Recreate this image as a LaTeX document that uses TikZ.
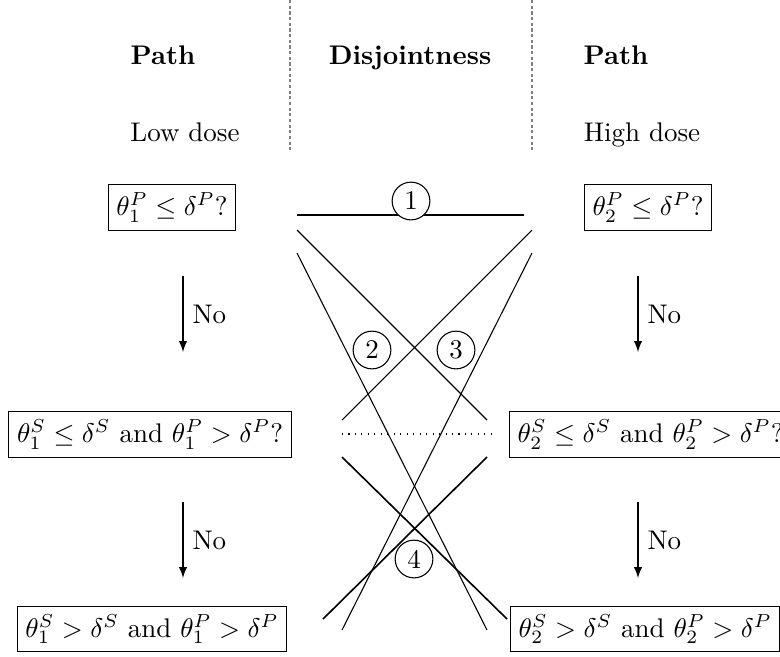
\documentclass[tikz,border=0pt]{standalone}
\usepackage{amssymb}

\tikzset{
  qbox/.style={draw, inner sep=3pt},
  numc/.style={draw, circle, inner sep=1pt, minimum size=14pt},
  crossln/.style={semithick},
  noarrow/.style={-latex},
  colsep/.style={gray, dash pattern=on 1.2pt off 0.9pt}
}

\begin{document}
\begin{tikzpicture}[x=0.371pt, y=-0.371pt]
  \useasboundingbox (0,0) rectangle (780,656);

  % Column separators (gray dashed)
  \coordinate (sepLt) at (290,0);
  \coordinate (sepLb) at (290,152);
  \coordinate (sepRt) at (532,0);
  \coordinate (sepRb) at (532,152);
  \draw[colsep] (sepLt) -- (sepLb);
  \draw[colsep] (sepRt) -- (sepRb);

  % Column headers
  \node[anchor=base, font=\bfseries] (hdL) at (163,64) {Path};
  \node[anchor=base, font=\bfseries] (hdM) at (410,64) {Disjointness};
  \node[anchor=base, font=\bfseries] (hdR) at (616,64) {Path};
  \node[anchor=base] (doseL) at (185,141) {Low dose};
  \node[anchor=base] (doseR) at (642,141) {High dose};

  % Questions, low dose
  \node[qbox] (qL1) at (172,207.5) {$\theta_1^P \leq \delta^P$?};
  \node[qbox] (qL2) at (150,434.5) {$\theta_1^S \leq \delta^S$ and $\theta_1^P > \delta^P$?};
  \node[qbox] (qL3) at (152,629) {$\theta_1^S > \delta^S$ and $\theta_1^P > \delta^P$};

  % Questions, high dose
  \node[qbox] (qR1) at (648,207.5) {$\theta_2^P \leq \delta^P$?};
  \node[qbox, anchor=west] (qR2) at (509,434.5) {$\theta_2^S \leq \delta^S$ and $\theta_2^P > \delta^P$?};
  \node[qbox, anchor=west] (qR3) at (510,629) {$\theta_2^S > \delta^S$ and $\theta_2^P > \delta^P$};

  % "No" arrows
  \coordinate (aL1s) at (183,276);
  \coordinate (aL1e) at (183,352);
  \coordinate (aL2s) at (183,502);
  \coordinate (aL2e) at (183,578);
  \coordinate (aR1s) at (638,276);
  \coordinate (aR1e) at (638,352);
  \coordinate (aR2s) at (638,502);
  \coordinate (aR2e) at (638,578);
  \draw[noarrow] (aL1s) -- node[right] {No} (aL1e);
  \draw[noarrow] (aL2s) -- node[right] {No} (aL2e);
  \draw[noarrow] (aR1s) -- node[right] {No} (aR1e);
  \draw[noarrow] (aR2s) -- node[right] {No} (aR2e);

  % Disjointness lines
  \coordinate (p1a) at (297,215);
  \coordinate (p1b) at (524,215);
  \coordinate (p2a) at (297,230);
  \coordinate (p2b) at (487,420);
  \coordinate (p3a) at (532,230);
  \coordinate (p3b) at (342,420);
  \coordinate (p4a) at (297,253);
  \coordinate (p4b) at (487,630);
  \coordinate (p5a) at (532,253);
  \coordinate (p5b) at (342,630);
  \coordinate (p6a) at (342,457);
  \coordinate (p6b) at (507,619);
  \coordinate (p7a) at (487,457);
  \coordinate (p7b) at (323,619);
  \coordinate (dota) at (342,434);
  \coordinate (dotb) at (492,434);
  \draw (p1a) -- (p1b);
  \draw (p2a) -- (p2b);
  \draw (p3a) -- (p3b);
  \draw (p4a) -- (p4b);
  \draw (p5a) -- (p5b);
  \draw[crossln] (p6a) -- (p6b);
  \draw[crossln] (p7a) -- (p7b);
  \draw[dotted] (dota) -- (dotb);

  % Case numbers
  \node[numc, fill=white] (c1) at (411,201) {1};
  \node[numc] (c2) at (372,350) {2};
  \node[numc] (c3) at (456,350) {3};
  \node[numc] (c4) at (414,559) {4};
\end{tikzpicture}
\end{document}
